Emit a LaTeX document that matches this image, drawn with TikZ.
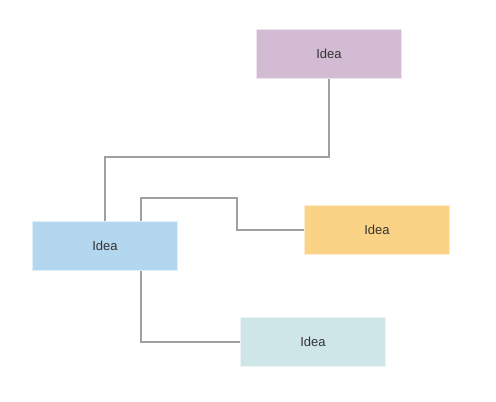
\documentclass[tikz,border=0pt]{standalone}
\usepackage{fontspec}
\setmainfont{Liberation Sans}
\definecolor{cpurple}{HTML}{D3BBD3}
\definecolor{cblue}{HTML}{B3D7EF}
\definecolor{corange}{HTML}{FBD386}
\definecolor{cteal}{HTML}{CFE6E8}
\definecolor{cline}{HTML}{A0A0A0}
\definecolor{ctext}{HTML}{333333}
\begin{document}
\begin{tikzpicture}[x=1pt,y=-1pt,
  idea/.style={minimum width=145pt,minimum height=49pt,inner sep=0pt,text=ctext,font=\fontsize{13}{15}\selectfont,draw=white!60!#1,fill=#1,line width=0.6pt},
  conn/.style={draw=cline,line width=1.5pt}]
\useasboundingbox (0,0) rectangle (496,402);
\node[idea=cpurple] (p) at (329,54) {Idea};
\node[idea=cblue] (b) at (105,246) {Idea};
\node[idea=corange] (o) at (377,230) {Idea};
\node[idea=cteal] (t) at (313,342) {Idea};
\coordinate (b2n) at ([xshift=36pt]b.north);
\coordinate (b2s) at ([xshift=36pt]b.south);
\coordinate (k1) at (105,157);
\coordinate (k2) at (237,198);
\draw[conn] (b.north) -- (k1) -| (p.south);
\draw[conn] (b2n) |- (k2) |- (o.west);
\draw[conn] (b2s) |- (t.west);
\end{tikzpicture}
\end{document}
